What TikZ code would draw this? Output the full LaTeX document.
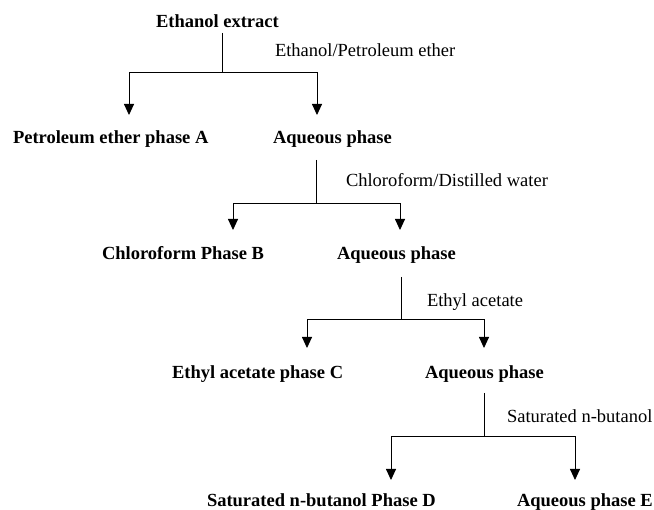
\documentclass[tikz,border=0pt]{standalone}
\usepackage{fontspec}
\setmainfont{Liberation Serif}
\usetikzlibrary{arrows.meta}
\begin{document}
\begin{tikzpicture}[x=1pt,y=-1pt,
  every node/.style={inner sep=0pt,outer sep=0pt,anchor=base west},
  phase/.style={font=\fontsize{18.5}{22}\selectfont\bfseries},
  solvent/.style={font=\fontsize{18.5}{22}\selectfont},
  link/.style={line width=0.9pt,black},
  arr/.style={line width=0.9pt,black,-{Triangle[width=10pt,length=11pt]}}]
\useasboundingbox (0,0) rectangle (654,510);
% nodes
\node[phase] (root) at (156,28) {Ethanol extract};
\node[solvent] (lab1) at (275,57) {Ethanol/Petroleum ether};
\node[phase] (pA) at (13,144) {Petroleum ether phase A};
\node[phase] (aq1) at (273,144) {Aqueous phase};
\node[solvent] (lab2) at (346,187) {Chloroform/Distilled water};
\node[phase] (pB) at (102,260) {Chloroform Phase B};
\node[phase] (aq2) at (337,260) {Aqueous phase};
\node[solvent] (lab3) at (427,307) {Ethyl acetate};
\node[phase] (pC) at (172,379) {Ethyl acetate phase C};
\node[phase] (aq3) at (425,379) {Aqueous phase};
\node[solvent] (lab4) at (507,423) {Saturated n-butanol};
\node[phase] (pD) at (207,507) {Saturated n-butanol Phase D};
\node[phase] (pE) at (517,507) {Aqueous phase E};
% coordinates
\coordinate (t0) at (222,33);  \coordinate (s0) at (222,72);
\coordinate (a0l) at (129,115); \coordinate (a0r) at (317,115);
\coordinate (t1) at (316,160); \coordinate (s1) at (316,203);
\coordinate (a1l) at (233,230); \coordinate (a1r) at (400,230);
\coordinate (t2) at (401,277); \coordinate (s2) at (401,319);
\coordinate (a2l) at (307,348); \coordinate (a2r) at (484,348);
\coordinate (t3) at (484,393); \coordinate (s3) at (484,436);
\coordinate (a3l) at (391,480); \coordinate (a3r) at (575,480);
% connectors
\draw[link] (t0) -- (s0);
\draw[arr] (s0) -| (a0l);
\draw[arr] (s0) -| (a0r);
\draw[link] (t1) -- (s1);
\draw[arr] (s1) -| (a1l);
\draw[arr] (s1) -| (a1r);
\draw[link] (t2) -- (s2);
\draw[arr] (s2) -| (a2l);
\draw[arr] (s2) -| (a2r);
\draw[link] (t3) -- (s3);
\draw[arr] (s3) -| (a3l);
\draw[arr] (s3) -| (a3r);
\end{tikzpicture}
\end{document}
